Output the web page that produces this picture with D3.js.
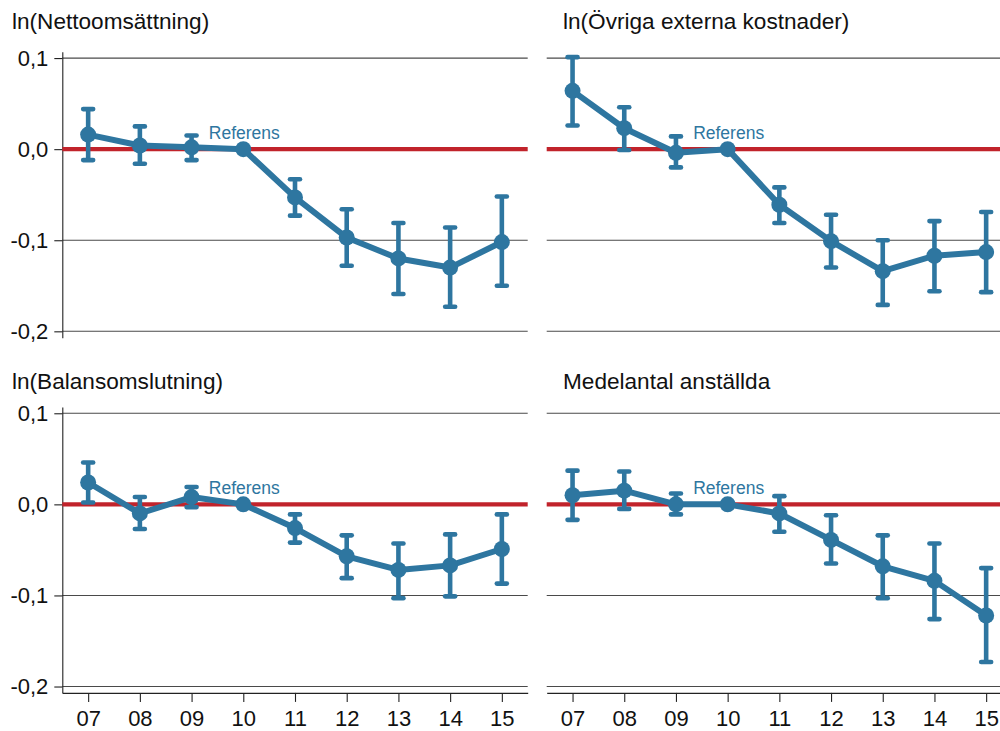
<!DOCTYPE html>
<html>
<head>
<meta charset="utf-8">
<script src="https://cdnjs.cloudflare.com/ajax/libs/d3/7.8.5/d3.min.js"></script>
<style>
  html, body { margin: 0; padding: 0; background: #fff; }
  svg { display: block; font-family: "Liberation Sans", Arial, sans-serif; }
</style>
</head>
<body>
<svg id="chart" width="1000" height="731"></svg>
<script>
// Years (x categories)
const years = ["07", "08", "09", "10", "11", "12", "13", "14", "15"];
const yTicks = [0.1, 0.0, -0.1, -0.2];
const referenceYear = "10";

// ln(Nettoomsättning): estimate with confidence interval
const nettoEst = [0.016, 0.004, 0.002, 0, -0.053, -0.097, -0.120, -0.130, -0.102];
const nettoHi  = [0.044, 0.025, 0.015, null, -0.033, -0.066, -0.081, -0.086, -0.052];
const nettoLo  = [-0.012, -0.016, -0.012, null, -0.073, -0.128, -0.159, -0.173, -0.150];

// ln(Övriga externa kostnader)
const ovrigaEst = [0.064, 0.023, -0.004, 0, -0.061, -0.101, -0.134, -0.117, -0.113];
const ovrigaHi  = [0.101, 0.046, 0.014, null, -0.042, -0.072, -0.100, -0.079, -0.069];
const ovrigaLo  = [0.026, -0.001, -0.020, null, -0.081, -0.130, -0.171, -0.156, -0.157];

// ln(Balansomslutning)
const balansEst = [0.024, -0.010, 0.008, 0, -0.026, -0.057, -0.072, -0.067, -0.049];
const balansHi  = [0.046, 0.008, 0.019, null, -0.011, -0.034, -0.043, -0.033, -0.011];
const balansLo  = [0.002, -0.027, -0.003, null, -0.042, -0.081, -0.103, -0.101, -0.087];

// Medelantal anställda
const medelEst = [0.010, 0.015, 0.000, 0, -0.010, -0.039, -0.068, -0.084, -0.122];
const medelHi  = [0.037, 0.036, 0.012, null, 0.009, -0.012, -0.034, -0.043, -0.070];
const medelLo  = [-0.017, -0.005, -0.011, null, -0.030, -0.065, -0.103, -0.126, -0.173];

const titles = ["ln(Nettoomsättning)", "ln(Övriga externa kostnader)", "ln(Balansomslutning)", "Medelantal anställda"];

const BLUE = "#2e76a0";
const RED = "#c1232b";
const GRID = "#4a4a4a";

const svg = d3.select("#chart");
const locale = d3.formatLocale({ decimal: ",", thousands: " ", grouping: [3], currency: ["", " kr"], minus: "-" });
const fmt = locale.format(".1f");

// Panel layout: plot rectangles and title anchors
const panels = [
  { title: titles[0], est: nettoEst,  hi: nettoHi,  lo: nettoLo,  x0: 62.3,  x1: 527.7, y0: 51.7,  y1: 337.7, tx: 12,  ty: 29,  yAxis: true,  xAxis: false },
  { title: titles[1], est: ovrigaEst, hi: ovrigaHi, lo: ovrigaLo, x0: 546.7, x1: 1012,  y0: 51.7,  y1: 337.7, tx: 563, ty: 29,  yAxis: false, xAxis: false },
  { title: titles[2], est: balansEst, hi: balansHi, lo: balansLo, x0: 62.3,  x1: 527.7, y0: 406.9, y1: 692.9, tx: 12,  ty: 389, yAxis: true,  xAxis: true },
  { title: titles[3], est: medelEst,  hi: medelHi,  lo: medelLo,  x0: 546.7, x1: 1012,  y0: 406.9, y1: 692.9, tx: 563, ty: 389, yAxis: false, xAxis: true }
];

panels.forEach(p => {
  const x = d3.scalePoint().domain(years).range([p.x0, p.x1]).padding(0.5);
  const y = d3.scaleLinear().domain([-0.207, 0.107]).range([p.y1, p.y0]);
  const g = svg.append("g");

  const rows = years.map((yr, i) => ({ yr, est: p.est[i], hi: p.hi[i], lo: p.lo[i] }));

  // horizontal gridlines
  g.selectAll("line.grid").data(yTicks.filter(t => t !== 0)).join("line")
    .attr("class", "grid")
    .attr("x1", p.x0).attr("x2", p.x1)
    .attr("y1", d => y(d)).attr("y2", d => y(d))
    .attr("stroke", GRID).attr("stroke-width", 1.1);

  // y axis
  if (p.yAxis) {
    const ax = g.append("g").attr("transform", `translate(${p.x0},0)`)
      .call(d3.axisLeft(y).tickValues(yTicks).tickFormat(fmt).tickSize(8).tickSizeOuter(0).tickPadding(6));
    ax.select(".domain").attr("stroke", "#222").attr("stroke-width", 1.1);
    ax.selectAll(".tick line").attr("stroke", "#222").attr("stroke-width", 1.1);
    ax.selectAll(".tick text").attr("fill", "#111").style("font-size", "22px")
      .style("font-family", "'Liberation Sans', Arial, sans-serif");
  }

  // x axis
  if (p.xAxis) {
    const ax = g.append("g").attr("transform", `translate(0,${p.y1})`)
      .call(d3.axisBottom(x).tickSize(9).tickSizeOuter(0).tickPadding(8));
    ax.select(".domain").attr("stroke", "#222").attr("stroke-width", 1.1);
    ax.selectAll(".tick line").attr("stroke", "#222").attr("stroke-width", 1.1);
    ax.selectAll(".tick text").attr("fill", "#111").style("font-size", "22px")
      .style("font-family", "'Liberation Sans', Arial, sans-serif");
  }

  // reference (zero) line
  g.append("line")
    .attr("x1", p.x0).attr("x2", p.x1)
    .attr("y1", y(0)).attr("y2", y(0))
    .attr("stroke", RED).attr("stroke-width", 4.3);

  // confidence intervals
  const ci = rows.filter(d => d.hi !== null && d.lo !== null);
  g.selectAll("line.ci").data(ci).join("line")
    .attr("class", "ci")
    .attr("x1", d => x(d.yr)).attr("x2", d => x(d.yr))
    .attr("y1", d => y(d.hi)).attr("y2", d => y(d.lo))
    .attr("stroke", BLUE).attr("stroke-width", 4.6);
  ["hi", "lo"].forEach(k => {
    g.selectAll(`line.cap-${k}`).data(ci).join("line")
      .attr("class", `cap-${k}`)
      .attr("x1", d => x(d.yr) - 5).attr("x2", d => x(d.yr) + 5)
      .attr("y1", d => y(d[k])).attr("y2", d => y(d[k]))
      .attr("stroke", BLUE).attr("stroke-width", 4.6).attr("stroke-linecap", "round");
  });

  // estimate line
  g.append("path").datum(rows)
    .attr("d", d3.line().x(d => x(d.yr)).y(d => y(d.est)))
    .attr("fill", "none").attr("stroke", BLUE).attr("stroke-width", 6)
    .attr("stroke-linejoin", "round");

  // markers
  g.selectAll("circle.pt").data(rows).join("circle")
    .attr("class", "pt")
    .attr("cx", d => x(d.yr)).attr("cy", d => y(d.est)).attr("r", 8)
    .attr("fill", BLUE);

  // reference label
  g.append("text")
    .attr("x", x(referenceYear) + 1).attr("y", y(0) - 10)
    .attr("text-anchor", "middle")
    .attr("fill", BLUE).style("font-size", "17.5px")
    .text("Referens");

  // panel title
  svg.append("text")
    .attr("x", p.tx).attr("y", p.ty)
    .attr("fill", "#111").style("font-size", "22.6px")
    .text(p.title);
});
</script>
</body>
</html>
